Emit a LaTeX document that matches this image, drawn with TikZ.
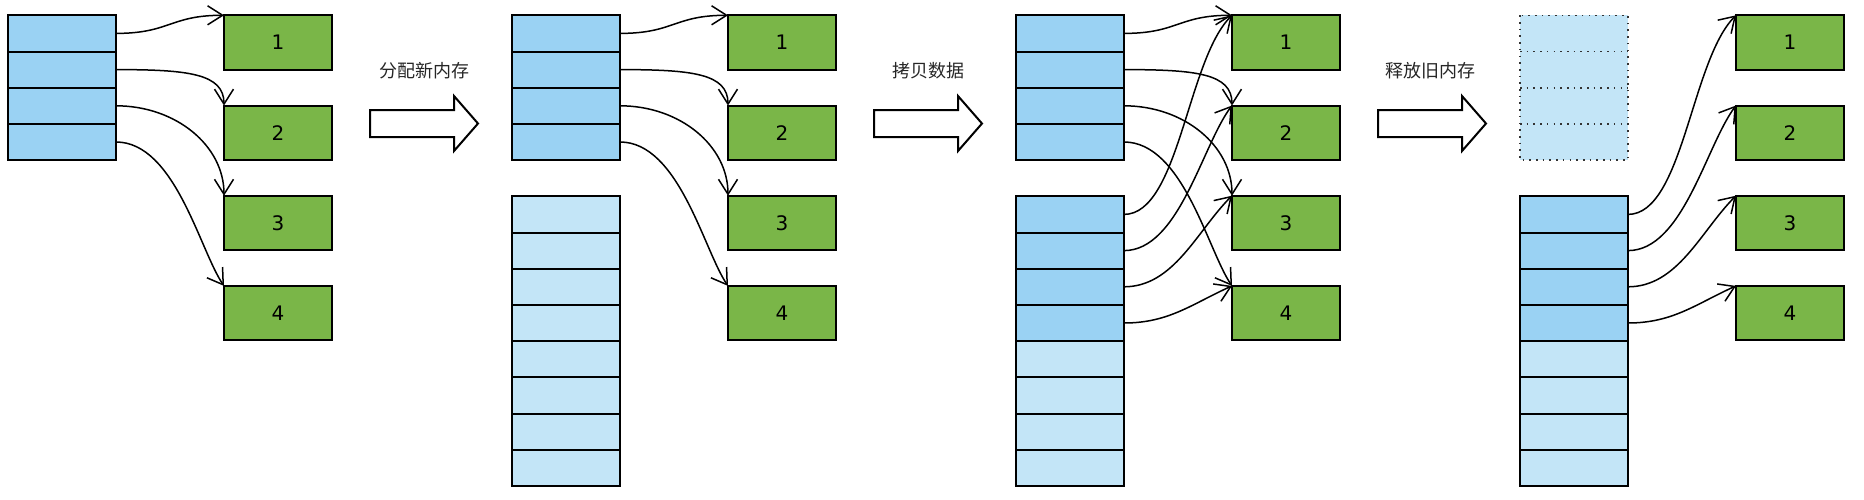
\documentclass[tikz,border=0pt]{standalone}
\usepackage{fontspec}
\setmainfont{DejaVu Sans}
\newfontfamily\cjk{Noto Sans CJK SC}
\usetikzlibrary{arrows.meta}
\definecolor{cellblue}{HTML}{9AD2F3}
\definecolor{celllight}{HTML}{C3E5F7}
\definecolor{boxgreen}{HTML}{7AB648}
\begin{document}
\begin{tikzpicture}[x=1pt,y=-1pt,
  cell/.style={draw, line width=2pt, minimum width=108pt, minimum height=36.2pt, inner sep=0pt, outer sep=0pt, fill=cellblue},
  lightcell/.style={cell, fill=celllight},
  freedcell/.style={lightcell, draw=none},
  dotline/.style={draw=black!80, dash pattern=on 1.6pt off 5.1pt, line width=1.6pt},
  greenbox/.style={draw, line width=2pt, fill=boxgreen, minimum width=108pt, minimum height=54.5pt, inner sep=0pt, outer sep=0pt, font=\fontsize{20}{24}\selectfont},
  conn/.style={line width=1.5pt, -{Straight Barb[length=15pt,width=19pt]}},
  bigarrow/.style={draw, line width=2pt, fill=white, line join=miter},
  lbl/.style={font=\cjk\fontsize{18}{22}\selectfont, text=black!85}]
\useasboundingbox (0,0) rectangle (1864,499);
% green boxes
\foreach \p in {0,1,2,3}{
  \foreach \k in {1,...,4}{
    \node[greenbox] (g-\p-\k) at ({278+504*\p},{42.55+90.2*(\k-1)}) {\k};
  }
}
% old arrays
\foreach \p in {0,1,2}{
  \foreach \i in {1,...,4}{
    \node[cell] (o-\p-\i) at ({62+504*\p},{15.3+36.2*(\i-0.5)}) {};
  }
}
\foreach \i in {1,...,4}{
  \node[freedcell] (o-3-\i) at ({62+504*3},{15.3+36.2*(\i-0.5)}) {};
}
\draw[dotline] (o-3-1.north west) rectangle (o-3-4.south east);
\foreach \i in {1,2,3}{
  \draw[dotline] (o-3-\i.south west) -- (o-3-\i.south east);
}
% new arrays
\foreach \j in {1,...,8}{
  \node[lightcell] (n-1-\j) at ({62+504},{196.3+36.2*(\j-0.5)}) {};
}
\foreach \p in {2,3}{
  \foreach \j in {1,...,8}{
    \ifnum\j<5
      \node[cell] (n-\p-\j) at ({62+504*\p},{196.3+36.2*(\j-0.5)}) {};
    \else
      \node[lightcell] (n-\p-\j) at ({62+504*\p},{196.3+36.2*(\j-0.5)}) {};
    \fi
  }
}
% connectors from old arrays
\foreach \p in {0,1,2}{
  \foreach \i/\a/\b/\c/\d in {1/54/0/-54/0, 2/72/0/0/-32, 3/60/0/0/-50, 4/59/0/-24/-35}{
    \draw[conn] (o-\p-\i.east) .. controls +(\a,\b) and +(\c,\d) .. (g-\p-\i.north west);
  }
}
% connectors from new arrays
\foreach \p in {2,3}{
  \foreach \i/\a/\c/\d in {1/55/-45/45, 2/55/-30/40, 3/50/-35/35, 4/45/-40/18}{
    \draw[conn] (n-\p-\i.east) .. controls +(\a,0) and +(\c,\d) .. (g-\p-\i.north west);
  }
}
% big arrows and labels
\foreach \q in {0,1,2}{
  \draw[bigarrow, shift={(504*\q,0)}] (370,110) -- (454,110) -- (454,96) -- (478,123.5) -- (454,151) -- (454,137) -- (370,137) -- cycle;
}
\node[lbl] (l0) at (424,71) {分配新内存};
\node[lbl] (l1) at (928,71) {拷贝数据};
\node[lbl] (l2) at (1430,71) {释放旧内存};
\end{tikzpicture}
\end{document}
